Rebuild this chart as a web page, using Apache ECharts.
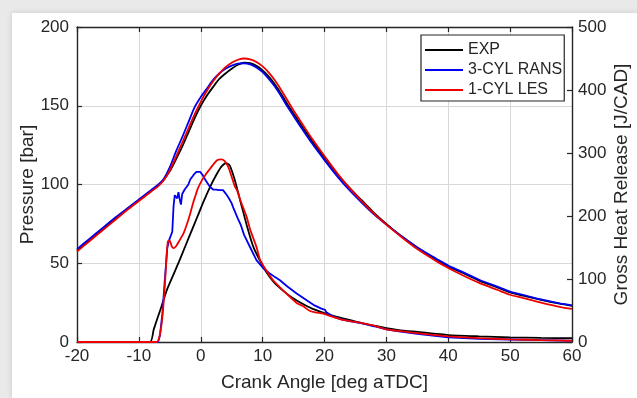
<!DOCTYPE html>
<html><head><meta charset="utf-8">
<script src="https://cdn.jsdelivr.net/npm/echarts@6/dist/echarts.min.js"></script>
<style>
html,body{margin:0;padding:0;width:637px;height:398px;overflow:hidden;background:#e9e9e9;}
#panel{position:absolute;left:12px;top:13px;width:625px;height:385px;background:#fff;box-shadow:0 0 6px rgba(0,0,0,0.13);}
#chart{position:absolute;left:0;top:0;width:637px;height:398px;}
</style></head><body>
<div id="panel"></div><div id="chart"></div>
<script>
// Legend names
const seriesNames = ['EXP', '3-CYL RANS', '1-CYL LES'];

// Pressure [bar] vs crank angle
const caP = [-20,-18,-16,-14,-12,-10,-8,-7,-6,-5,-4,-3,-2,-1,0,1,2,3,4,5,6,7,8,9,10,11,12,13,14,15,16,18,20,22,24,26,28,30,32,35,38,40,42,45,48,50,52,55,58,60];
const pExp = [58,64.5,71,77.5,84,90,96,99,103,108.5,116,124,133,142,150,156.5,162,167,170.5,173.5,176,177.3,177,175.3,172.5,168.5,163.5,157.5,151,145,139,127.5,117,107,98,90,82,75,68.5,60,52.5,48,44.5,39,34.5,31.5,29.5,26.7,24.3,23];
const pRans = [59,65.5,72,78.5,84.5,90.5,96.5,99.5,103.5,111,121,130,139.5,149,155.5,161,166.5,170.5,173.5,175.5,176.8,177,176.3,174.3,171.3,167,162,156,149.5,143.5,137.5,126,115.5,105.5,96.5,88.5,81,74.5,68.5,60,53,48.5,45,39.5,35,32,30,27,24.5,23.3];
const pLes = [57.5,64,70.5,77,83.5,89.5,95.5,98.5,102.5,109,117.5,126.5,135.5,144.5,152.5,159.5,165.5,170.5,174.5,177.3,179.2,180,179.5,177.8,175,171,166,160,153.5,147,141,129,118,107.5,98,89.5,81.5,74.5,68,59,51.5,47,43,37.5,33,30,28,25,22.3,21];

// Gross heat release [J/CAD]
const caHExp = [-20,-8.2,-7.6,-6.5,-5.5,-4.5,-3.5,-2.5,-1.5,-0.5,0.5,1.5,2.5,3.3,4.1,4.7,5.5,6.5,7.5,8.5,10,11,12,13,14,15,16,18,20,22,24,26,28,30,32,35,40,45,50,55,60];
const hExp = [0,0,20,52,82,105,128,152,176,200,224,246,265,278,284,280,257,220,183,151,121,105,93,84,76,69,63,53,46,40,35,30,26,22,19,16,11,9,7.5,6.5,6];

const caHRans = [-20,-6.9,-6.6,-6.2,-5.8,-5.4,-5.1,-4.9,-4.6,-4.4,-4.2,-4.0,-3.8,-3.6,-3.4,-3.2,-3.0,-2.8,-2.6,-2.3,-2.0,-1.7,-1.4,-1.1,-0.7,-0.4,-0.1,0.3,0.7,1.1,1.5,2.0,2.5,3.0,3.6,4.0,4.5,5.0,5.3,6.0,6.5,7.0,8.0,9.0,10.1,11,12,12.8,14,15.5,17,18.2,19.5,20.1,20.3,20.6,21.5,23,26.3,28,30,32,35,40,45,50,55,60];
const hRans = [0,0,10,45,100,150,162,165,175,215,233,236,228,238,226,218,235,232,242,246,250,258,262,266,270,273,270,265,258,252,246,242,242,241,241,236,229,220,212,196,185,170,150,130,117,110,103,98,88,77,67,59,53,51,47,44,40,35,29,25,20,17,13,7.5,5,4,3,2];

const caHLes = [-20,-7.1,-6.6,-6.2,-5.8,-5.5,-5.3,-5.0,-4.7,-4.4,-4.0,-3.5,-2.8,-2.2,-1.7,-1.2,-0.9,-0.5,0.2,0.8,1.5,2.2,2.7,3.3,3.8,4.45,5.0,5.5,5.9,6.4,7.4,8.0,9.0,9.6,10.7,11.7,13.3,15.5,16.5,17.5,18.5,19.8,21,23,26.3,28,30,32,35,40,45,50,55,60];
const hLes = [0,0,12,40,90,140,160,161,152,149,152,160,172,188,204,222,231,243,257,266,275,284,289,290,288,278,262,247,240,225,199,178,151,130,112,98,82,62,57,50,47,45,41,35,29.6,26,20,17.5,14,9,6,4.2,3,2];

const colors = ['#000000', '#0000f0', '#ee0000'];
const txt = '#262626';
const font = 'Liberation Sans, Arial, Helvetica, sans-serif';
const zip = (xs, ys) => xs.map((x, i) => [x, ys[i]]);

const axisLine = {show: true, onZero: false, lineStyle: {color: txt, width: 1.4}};
const tick = {show: true, inside: true, length: 5, lineStyle: {color: txt, width: 1.2}};

const chart = echarts.init(document.getElementById('chart'), null, {renderer: 'canvas'});
chart.setOption({
  animation: false,
  backgroundColor: 'transparent',
  textStyle: {fontFamily: font},
  grid: {left: 77, right: 65, top: 27, bottom: 56, containLabel: false, outerBoundsMode: 'none'},
  legend: {
    data: seriesNames,
    orient: 'vertical',
    left: 421, top: 35,
    icon: 'rect', itemWidth: 38, itemHeight: 2, itemGap: 4,
    padding: [7, 2, 3, 4],
    borderColor: '#262626', borderWidth: 1.2,
    backgroundColor: '#fff',
    textStyle: {fontSize: 16, color: txt, fontFamily: font}
  },
  xAxis: [{
    type: 'value', min: -20, max: 60, interval: 10, position: 'bottom',
    axisLine: axisLine, axisTick: tick,
    axisLabel: {fontSize: 17, color: txt, margin: 6, fontFamily: font},
    splitLine: {show: true, lineStyle: {color: '#d8d8d8', width: 1}},
    name: 'Crank Angle [deg aTDC]', nameLocation: 'middle', nameGap: 31, nameMoveOverlap: false,
    nameTextStyle: {fontSize: 19, color: txt, fontFamily: font}
  }, {
    type: 'value', min: -20, max: 60, interval: 10, position: 'top',
    axisLine: axisLine, axisTick: tick,
    axisLabel: {show: false}, splitLine: {show: false}
  }],
  yAxis: [{
    type: 'value', min: 0, max: 200, interval: 50, position: 'left',
    axisLine: axisLine, axisTick: tick,
    axisLabel: {fontSize: 17, color: txt, margin: 8, fontFamily: font},
    splitLine: {show: true, lineStyle: {color: '#d8d8d8', width: 1}},
    name: 'Pressure [bar]', nameLocation: 'middle', nameGap: 40, nameRotate: 90, nameMoveOverlap: false,
    nameTextStyle: {fontSize: 19, color: txt, fontFamily: font}
  }, {
    type: 'value', min: 0, max: 500, interval: 100, position: 'right',
    axisLine: axisLine, axisTick: tick,
    axisLabel: {fontSize: 17, color: txt, margin: 6, fontFamily: font},
    splitLine: {show: false},
    name: 'Gross Heat Release [J/CAD]', nameLocation: 'middle', nameGap: 40, nameRotate: 90, nameMoveOverlap: false,
    nameTextStyle: {fontSize: 19, color: txt, fontFamily: font}
  }],
  series: [
    {name: seriesNames[0], type: 'line', yAxisIndex: 0, data: zip(caP, pExp), smooth: 0.3, showSymbol: false, lineStyle: {width: 1.8, color: colors[0]}, itemStyle: {color: colors[0]}},
    {name: seriesNames[1], type: 'line', yAxisIndex: 0, data: zip(caP, pRans), smooth: 0.3, showSymbol: false, lineStyle: {width: 1.8, color: colors[1]}, itemStyle: {color: colors[1]}},
    {name: seriesNames[2], type: 'line', yAxisIndex: 0, data: zip(caP, pLes), smooth: 0.3, showSymbol: false, lineStyle: {width: 1.8, color: colors[2]}, itemStyle: {color: colors[2]}},
    {name: seriesNames[0], type: 'line', yAxisIndex: 1, data: zip(caHExp, hExp), smooth: 0.2, showSymbol: false, lineStyle: {width: 1.8, color: colors[0]}, itemStyle: {color: colors[0]}},
    {name: seriesNames[1], type: 'line', yAxisIndex: 1, data: zip(caHRans, hRans), showSymbol: false, lineStyle: {width: 1.8, color: colors[1]}, itemStyle: {color: colors[1]}},
    {name: seriesNames[2], type: 'line', yAxisIndex: 1, data: zip(caHLes, hLes), smooth: 0.15, showSymbol: false, lineStyle: {width: 1.8, color: colors[2]}, itemStyle: {color: colors[2]}}
  ]
});
</script>
</body></html>
